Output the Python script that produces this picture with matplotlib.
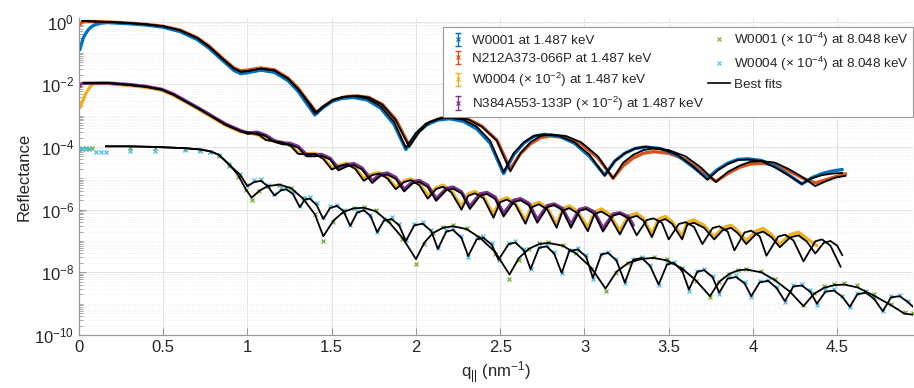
import numpy as np
import matplotlib
matplotlib.use("Agg")
import matplotlib.pyplot as plt
from matplotlib.lines import Line2D
from matplotlib.container import ErrorbarContainer
from matplotlib.collections import LineCollection
from matplotlib.ticker import LogLocator, FixedLocator, FuncFormatter, NullFormatter

plt.rcParams['font.family'] = ['Liberation Sans', 'DejaVu Sans']
plt.rcParams['mathtext.fontset'] = 'custom'
plt.rcParams['mathtext.rm'] = 'Liberation Sans'
plt.rcParams['mathtext.it'] = 'Liberation Sans:italic'
plt.rcParams['mathtext.default'] = 'regular'

# ---- data: q (nm^-1) and log10(reflectance) ----

# fits, 1.487 keV, W0001 and N212A373-066P
fitA_q = [0.02, 0.10, 0.20, 0.30, 0.40, 0.50, 0.60, 0.70, 0.77, 0.85, 0.92, 0.96, 1.00, 1.08, 1.16, 1.24, 1.30, 1.36,
          1.40, 1.44, 1.50, 1.56, 1.63, 1.71, 1.79, 1.87, 1.94, 2.00, 2.06, 2.13, 2.20, 2.28, 2.36, 2.44,
          2.52, 2.58, 2.64, 2.70, 2.76, 2.85, 2.94, 3.03, 3.12, 3.18, 3.24, 3.30, 3.36, 3.45, 3.55, 3.64,
          3.73, 3.79, 3.85, 3.91, 3.97, 4.05, 4.13, 4.21, 4.29, 4.35, 4.41, 4.47, 4.53]
fitA_L = [0.02, 0.00, -0.02, -0.05, -0.09, -0.15, -0.28, -0.52, -0.79, -1.18, -1.50, -1.60, -1.58, -1.50, -1.56, -1.82, -2.15, -2.60,
          -2.93, -2.74, -2.52, -2.41, -2.38, -2.45, -2.70, -3.20, -4.03, -3.55, -3.25, -3.10, -3.07, -3.13, -3.35, -3.80,
          -4.80, -4.20, -3.85, -3.65, -3.60, -3.65, -3.85, -4.25, -4.92, -4.45, -4.20, -4.05, -4.00, -4.05, -4.25, -4.60,
          -5.05, -4.75, -4.55, -4.42, -4.40, -4.45, -4.65, -4.90, -5.18, -5.00, -4.90, -4.85, -4.83]

fitB_q = [0.02, 0.10, 0.20, 0.30, 0.40, 0.50, 0.60, 0.70, 0.77, 0.85, 0.92, 0.96, 1.00, 1.08, 1.16, 1.24, 1.30, 1.36,
          1.41, 1.45, 1.51, 1.58, 1.65, 1.72, 1.80, 1.88, 1.96, 2.02, 2.08, 2.15, 2.23, 2.31, 2.39, 2.48,
          2.56, 2.62, 2.68, 2.74, 2.80, 2.89, 2.98, 3.08, 3.17, 3.23, 3.29, 3.35, 3.41, 3.50, 3.60, 3.69,
          3.78, 3.85, 3.92, 3.98, 4.05, 4.13, 4.21, 4.29, 4.37, 4.43, 4.49, 4.55]
fitB_L = [0.02, 0.00, -0.02, -0.05, -0.09, -0.15, -0.28, -0.52, -0.79, -1.18, -1.50, -1.60, -1.58, -1.50, -1.56, -1.82, -2.15, -2.55,
          -2.92, -2.72, -2.50, -2.40, -2.37, -2.42, -2.65, -3.15, -4.00, -3.50, -3.22, -3.08, -3.05, -3.12, -3.35, -3.80,
          -4.78, -4.20, -3.85, -3.65, -3.60, -3.65, -3.85, -4.30, -5.00, -4.50, -4.25, -4.10, -4.05, -4.10, -4.30, -4.65,
          -5.12, -4.80, -4.60, -4.48, -4.45, -4.50, -4.70, -4.95, -5.25, -5.10, -4.98, -4.92]

# measured, 1.487 keV
w1_q = [0.005, 0.01, 0.025, 0.04, 0.055, 0.075, 0.095, 0.13, 0.17, 0.20, 0.30, 0.40, 0.50, 0.60, 0.70, 0.77, 0.85, 0.92, 0.96,
        1.00, 1.08, 1.16, 1.24, 1.30, 1.36, 1.40, 1.44, 1.50, 1.56, 1.63, 1.71, 1.79, 1.87, 1.94, 2.00, 2.06, 2.13,
        2.20, 2.28, 2.36, 2.44, 2.52, 2.58, 2.64, 2.70, 2.76, 2.85, 2.94, 3.03, 3.12, 3.18, 3.24, 3.30, 3.36, 3.45,
        3.55, 3.64, 3.73, 3.79, 3.85, 3.91, 3.97, 4.05, 4.13, 4.21, 4.29, 4.35, 4.41, 4.47, 4.53]
w1_L = [-0.90, -0.80, -0.52, -0.38, -0.26, -0.16, -0.10, -0.05, -0.03, -0.04, -0.07, -0.11, -0.18, -0.32, -0.57, -0.84, -1.23, -1.56, -1.66,
        -1.63, -1.55, -1.62, -1.88, -2.22, -2.68, -2.98, -2.78, -2.55, -2.45, -2.42, -2.50, -2.76, -3.28, -4.08, -3.60, -3.30, -3.14,
        -3.10, -3.18, -3.42, -3.88, -4.85, -4.25, -3.88, -3.66, -3.60, -3.66, -3.88, -4.30, -4.90, -4.45, -4.20, -4.05, -4.00, -4.05,
        -4.26, -4.62, -5.00, -4.72, -4.52, -4.40, -4.38, -4.43, -4.62, -4.88, -5.18, -4.98, -4.85, -4.77, -4.72]

n212_q = [0.0, 0.01, 0.02, 0.03, 0.10, 0.20, 0.30, 0.40, 0.50, 0.60, 0.70, 0.77, 0.85, 0.92, 0.96, 1.00, 1.08, 1.16, 1.24,
          1.30, 1.36, 1.41, 1.45, 1.51, 1.58, 1.65, 1.72, 1.80, 1.88, 1.96, 2.02, 2.08, 2.15, 2.23, 2.31, 2.39, 2.48,
          2.56, 2.62, 2.68, 2.74, 2.80, 2.89, 2.98, 3.08, 3.17, 3.23, 3.29, 3.35, 3.41, 3.50, 3.60, 3.69, 3.78, 3.85,
          3.92, 3.98, 4.05, 4.13, 4.21, 4.29, 4.37, 4.43, 4.49, 4.55]
n212_L = [-0.12, -0.06, -0.02, 0.00, 0.00, -0.02, -0.05, -0.09, -0.15, -0.27, -0.51, -0.77, -1.16, -1.48, -1.57, -1.55, -1.48, -1.54, -1.80,
          -2.12, -2.55, -2.90, -2.72, -2.50, -2.40, -2.37, -2.42, -2.64, -3.12, -3.95, -3.50, -3.22, -3.08, -3.05, -3.12, -3.33, -3.78,
          -4.70, -4.22, -3.90, -3.70, -3.65, -3.70, -3.90, -4.35, -5.00, -4.60, -4.35, -4.20, -4.15, -4.20, -4.40, -4.75, -5.10, -4.85,
          -4.65, -4.55, -4.52, -4.57, -4.75, -4.98, -5.15, -5.05, -4.95, -4.86]

# fits, 1.487 keV, x 1e-2 samples
fitC_q = [0.03, 0.17, 0.30, 0.40, 0.49, 0.56, 0.63, 0.70, 0.77, 0.87, 0.96,
          1.02, 1.07, 1.11, 1.16, 1.21, 1.26, 1.30, 1.35, 1.40, 1.45, 1.50, 1.55, 1.59, 1.64, 1.69, 1.74, 1.78, 1.83,
          1.88, 1.93, 1.97, 2.02, 2.07, 2.12, 2.16, 2.21, 2.27, 2.31, 2.35, 2.40, 2.46, 2.50, 2.54, 2.59, 2.65, 2.69,
          2.73, 2.78, 2.835, 2.87, 2.91, 2.96, 3.02, 3.06, 3.10, 3.15, 3.21, 3.26, 3.31, 3.35, 3.40, 3.44, 3.48, 3.52,
          3.58, 3.61, 3.65, 3.71, 3.77, 3.82, 3.87, 3.91, 3.96, 4.02, 4.06, 4.11, 4.16, 4.22, 4.27, 4.32, 4.37, 4.42,
          4.46, 4.50, 4.53]
fitC_L = [-1.96, -1.96, -2.02, -2.08, -2.17, -2.33, -2.54, -2.75, -2.97, -3.29, -3.50,
          -3.55, -3.62, -3.78, -3.82, -3.86, -3.98, -4.22, -4.24, -4.22, -4.38, -4.72, -4.60, -4.55, -4.70, -5.08, -4.90, -4.85, -5.00,
          -5.35, -5.12, -5.06, -5.22, -5.65, -5.34, -5.27, -5.45, -6.00, -5.56, -5.48, -5.63, -6.26, -5.76, -5.68, -5.84, -6.45, -5.92,
          -5.83, -6.00, -6.58, -6.04, -5.95, -6.12, -6.69, -6.14, -6.06, -6.22, -6.79, -6.28, -6.20, -6.35, -6.88, -6.38, -6.30, -6.45,
          -6.95, -6.48, -6.42, -6.58, -6.95, -6.66, -6.58, -6.75, -7.10, -6.77, -6.70, -6.88, -7.20, -6.89, -6.82, -7.02, -7.40, -7.06,
          -7.00, -7.15, -7.45]

fitD_q = [0.03, 0.17, 0.30, 0.40, 0.49, 0.56, 0.63, 0.70, 0.77, 0.87, 0.96,
          1.00, 1.06, 1.11, 1.16, 1.21, 1.25, 1.30, 1.35, 1.40, 1.44, 1.49, 1.54, 1.59, 1.63, 1.68, 1.74, 1.79, 1.83,
          1.88, 1.93, 1.98, 2.02, 2.07, 2.12, 2.18, 2.22, 2.27, 2.32, 2.38, 2.42, 2.47, 2.52, 2.58, 2.62, 2.67, 2.72,
          2.78, 2.82, 2.87, 2.92, 2.97, 3.01, 3.06, 3.11, 3.17, 3.21, 3.26, 3.31, 3.37, 3.41, 3.46, 3.50, 3.56, 3.60,
          3.65, 3.70, 3.76, 3.80, 3.85, 3.89, 3.95, 3.99, 4.04, 4.08, 4.15, 4.19, 4.24, 4.30, 4.37, 4.41, 4.46, 4.52]
fitD_L = [-1.96, -1.96, -2.02, -2.08, -2.17, -2.33, -2.54, -2.75, -2.97, -3.29, -3.50,
          -3.58, -3.56, -3.66, -3.84, -3.92, -3.92, -4.02, -4.30, -4.30, -4.28, -4.40, -4.75, -4.62, -4.58, -4.72, -5.15, -4.92, -4.88,
          -5.02, -5.42, -5.16, -5.12, -5.28, -5.72, -5.38, -5.33, -5.48, -5.98, -5.56, -5.50, -5.66, -6.22, -5.76, -5.70, -5.86, -6.42,
          -5.92, -5.86, -6.02, -6.58, -6.04, -5.98, -6.14, -6.70, -6.19, -6.13, -6.28, -6.82, -6.33, -6.28, -6.42, -6.95, -6.46, -6.40,
          -6.55, -7.10, -6.59, -6.53, -6.70, -7.30, -6.73, -6.67, -6.85, -7.47, -6.86, -6.80, -6.98, -7.65, -7.01, -6.95, -7.15, -7.82]

# measured, 1.487 keV, x 1e-2 samples
w4_q = [0.005, 0.025, 0.04, 0.055, 0.07, 0.09, 0.17, 0.30, 0.40, 0.49, 0.56, 0.63, 0.70, 0.77, 0.87, 0.96,
        1.02, 1.07, 1.11, 1.16, 1.21, 1.26, 1.30, 1.35, 1.40, 1.45, 1.50, 1.55, 1.59, 1.64, 1.69, 1.74, 1.78, 1.83,
        1.88, 1.93, 1.97, 2.02, 2.07, 2.12, 2.16, 2.21, 2.27, 2.31, 2.35, 2.40, 2.46, 2.50, 2.54, 2.59, 2.65, 2.69,
        2.73, 2.78, 2.835, 2.87, 2.91, 2.96, 3.02, 3.06, 3.10, 3.15, 3.21, 3.26, 3.31, 3.35, 3.40, 3.44, 3.48, 3.52,
        3.58, 3.61, 3.65, 3.71, 3.77, 3.82, 3.87, 3.91, 3.96, 4.02, 4.06, 4.11, 4.16, 4.22, 4.27, 4.32, 4.38]
w4_L = [-2.75, -2.50, -2.30, -2.17, -2.05, -1.98, -1.98, -2.04, -2.10, -2.19, -2.35, -2.56, -2.77, -2.99, -3.31, -3.52,
        -3.56, -3.63, -3.76, -3.82, -3.85, -3.97, -4.18, -4.22, -4.20, -4.36, -4.66, -4.58, -4.52, -4.67, -5.00, -4.86, -4.82, -4.97,
        -5.28, -5.08, -5.02, -5.18, -5.55, -5.30, -5.22, -5.40, -5.90, -5.50, -5.42, -5.58, -6.15, -5.70, -5.62, -5.80, -6.35, -5.85,
        -5.77, -5.95, -6.48, -5.98, -5.88, -6.06, -6.58, -6.08, -5.98, -6.15, -6.68, -6.20, -6.12, -6.28, -6.78, -6.30, -6.22, -6.38,
        -6.85, -6.40, -6.33, -6.50, -6.88, -6.58, -6.50, -6.68, -7.00, -6.68, -6.60, -6.80, -7.10, -6.80, -6.72, -6.92, -7.15]

n384_q = [0.0, 0.01, 0.02, 0.17, 0.30, 0.40, 0.49, 0.56, 0.63, 0.70, 0.77, 0.87, 0.96,
          1.00, 1.06, 1.11, 1.16, 1.21, 1.25, 1.30, 1.35, 1.40, 1.44, 1.49, 1.54, 1.59, 1.63, 1.68, 1.74, 1.79, 1.83,
          1.88, 1.93, 1.98, 2.02, 2.07, 2.12, 2.18, 2.22, 2.27, 2.32, 2.38, 2.42, 2.47, 2.52, 2.58, 2.62, 2.67, 2.72,
          2.78, 2.82, 2.87, 2.92, 2.97, 3.01, 3.06, 3.11, 3.17, 3.21, 3.26, 3.29]
n384_L = [-2.10, -2.00, -1.97, -1.96, -2.01, -2.07, -2.16, -2.31, -2.52, -2.73, -2.95, -3.27, -3.48,
          -3.55, -3.53, -3.63, -3.80, -3.88, -3.88, -3.98, -4.24, -4.25, -4.24, -4.36, -4.68, -4.57, -4.53, -4.67, -5.08, -4.87, -4.83,
          -4.97, -5.35, -5.11, -5.07, -5.22, -5.65, -5.33, -5.28, -5.43, -5.90, -5.50, -5.45, -5.60, -6.12, -5.70, -5.65, -5.80, -6.32,
          -5.87, -5.82, -5.96, -6.48, -5.99, -5.94, -6.08, -6.60, -6.14, -6.10, -6.22, -6.50]

# fits, 8.048 keV, x 1e-4 samples
fitE_q = [0.16, 0.30, 0.45, 0.63, 0.72, 0.78, 0.83, 0.89, 0.945, 0.99, 1.025, 1.07, 1.12, 1.19, 1.26, 1.33, 1.40,
          1.45, 1.51, 1.57, 1.63, 1.69, 1.76, 1.84, 1.92, 2.00, 2.05, 2.10, 2.16, 2.22, 2.30, 2.38, 2.47,
          2.555, 2.61, 2.67, 2.73, 2.785, 2.87, 2.95, 3.04, 3.125, 3.19, 3.26, 3.34, 3.41, 3.49, 3.58, 3.66,
          3.745, 3.80, 3.86, 3.91, 3.96, 4.05, 4.13, 4.22, 4.30, 4.36, 4.42, 4.48, 4.54, 4.62, 4.72, 4.82, 4.90, 4.95]
fitE_L = [-3.98, -3.98, -4.00, -4.04, -4.08, -4.14, -4.25, -4.55, -4.90, -5.35, -5.62, -5.40, -5.25, -5.20, -5.32, -5.65, -6.15,
          -6.85, -6.35, -6.07, -5.96, -5.94, -6.05, -6.40, -6.90, -7.58, -7.05, -6.75, -6.58, -6.53, -6.62, -6.90, -7.35,
          -8.07, -7.55, -7.25, -7.10, -7.06, -7.15, -7.40, -7.85, -8.52, -7.98, -7.70, -7.57, -7.54, -7.62, -7.88, -8.25,
          -8.76, -8.30, -8.05, -7.94, -7.91, -8.00, -8.25, -8.62, -9.08, -8.70, -8.50, -8.41, -8.39, -8.48, -8.75, -9.05, -9.32, -9.35]

fitF_q = [0.16, 0.30, 0.45, 0.63, 0.72, 0.78, 0.83, 0.89, 0.955,
          1.00, 1.04, 1.08, 1.12, 1.16, 1.20, 1.23, 1.27, 1.31, 1.34, 1.37, 1.41, 1.45, 1.49, 1.53, 1.57, 1.61, 1.65,
          1.69, 1.73, 1.77, 1.81, 1.855, 1.90, 1.94, 1.99, 2.04, 2.09, 2.13, 2.18, 2.22, 2.27, 2.31, 2.36, 2.40, 2.45,
          2.49, 2.55, 2.59, 2.64, 2.68, 2.73, 2.775, 2.82, 2.865, 2.91, 2.96, 3.01, 3.05, 3.10, 3.14, 3.19, 3.24, 3.29,
          3.34, 3.39, 3.44, 3.49, 3.53, 3.58, 3.62, 3.67, 3.71, 3.76, 3.80, 3.85, 3.90, 3.95, 3.99, 4.04, 4.09, 4.14,
          4.19, 4.24, 4.29, 4.34, 4.38, 4.43, 4.48, 4.53, 4.575, 4.62, 4.67, 4.72, 4.77, 4.82, 4.87, 4.92, 4.95]
fitF_L = [-3.98, -3.98, -4.00, -4.04, -4.08, -4.14, -4.25, -4.56, -4.88,
          -5.25, -5.12, -5.08, -5.25, -5.55, -5.38, -5.35, -5.50, -5.92, -5.68, -5.65, -5.85, -6.30, -5.95, -5.88, -6.05, -6.52, -6.10,
          -6.02, -6.20, -6.72, -6.35, -6.30, -6.50, -7.00, -6.50, -6.45, -6.68, -7.25, -6.70, -6.65, -6.90, -7.48, -6.95, -6.90, -7.12,
          -7.60, -7.10, -7.05, -7.30, -7.90, -7.22, -7.17, -7.40, -8.02, -7.32, -7.27, -7.50, -8.18, -7.43, -7.38, -7.62, -8.33, -7.60,
          -7.54, -7.80, -8.39, -7.75, -7.70, -7.95, -8.55, -7.98, -7.93, -8.15, -8.65, -8.20, -8.15, -8.35, -8.76, -8.32, -8.27, -8.50,
          -8.92, -8.45, -8.42, -8.62, -9.00, -8.62, -8.58, -8.78, -9.10, -8.70, -8.65, -8.85, -9.24, -8.80, -8.76, -8.95, -9.10]

# measured, 8.048 keV, x 1e-4 samples
g1_q = [0.0, 0.02, 0.04, 0.06, 0.08, 0.30, 0.45, 0.63, 0.72, 0.78, 0.83, 0.89, 0.945, 0.99, 1.025, 1.07, 1.12, 1.19, 1.26, 1.33, 1.40,
        1.45, 1.51, 1.57, 1.63, 1.69, 1.76, 1.84, 1.92, 2.00, 2.05, 2.10, 2.16, 2.22, 2.30, 2.38, 2.47,
        2.555, 2.61, 2.67, 2.73, 2.785, 2.87, 2.95, 3.04, 3.125, 3.19, 3.26, 3.34, 3.41, 3.49, 3.58, 3.66,
        3.745, 3.80, 3.86, 3.91, 3.96, 4.05, 4.13, 4.22, 4.30, 4.36, 4.42, 4.48, 4.54, 4.62, 4.72, 4.82, 4.90, 4.95]
g1_L = [-4.05, -4.05, -4.03, -4.05, -4.03, -4.02, -4.04, -4.07, -4.10, -4.16, -4.28, -4.60, -4.95, -5.38, -5.70, -5.42, -5.26, -5.20, -5.30, -5.62, -6.15,
        -7.00, -6.40, -6.08, -5.96, -5.92, -6.02, -6.36, -6.95, -7.75, -7.10, -6.76, -6.57, -6.50, -6.58, -6.88, -7.40,
        -8.20, -7.60, -7.25, -7.08, -7.03, -7.12, -7.38, -7.90, -8.60, -8.02, -7.70, -7.55, -7.50, -7.58, -7.85, -8.28,
        -8.80, -8.32, -8.05, -7.92, -7.88, -7.96, -8.22, -8.62, -9.05, -8.65, -8.45, -8.36, -8.33, -8.42, -8.70, -9.00, -9.28, -9.30]

w4x_q = [0.0, 0.02, 0.04, 0.06, 0.10, 0.13, 0.16, 0.30, 0.45, 0.63, 0.72, 0.78, 0.83, 0.89, 0.955,
         1.00, 1.04, 1.08, 1.12, 1.16, 1.20, 1.23, 1.27, 1.31, 1.34, 1.37, 1.41, 1.45, 1.49, 1.53, 1.57, 1.61, 1.65,
         1.69, 1.73, 1.77, 1.81, 1.855, 1.90, 1.94, 1.99, 2.04, 2.09, 2.13, 2.18, 2.22, 2.27, 2.31, 2.36, 2.40, 2.45,
         2.49, 2.55, 2.59, 2.64, 2.68, 2.73, 2.775, 2.82, 2.865, 2.91, 2.96, 3.01, 3.05, 3.10, 3.14, 3.19, 3.24, 3.29,
         3.34, 3.39, 3.44, 3.49, 3.53, 3.58, 3.62, 3.67, 3.71, 3.76, 3.80, 3.85, 3.90, 3.95, 3.99, 4.04, 4.09, 4.14,
         4.19, 4.24, 4.29, 4.34, 4.38, 4.43, 4.48, 4.53, 4.575, 4.62, 4.67, 4.72, 4.77, 4.82, 4.87, 4.92]
w4x_L = [-4.05, -4.03, -4.05, -4.03, -4.15, -4.15, -4.15, -4.13, -4.12, -4.10, -4.12, -4.16, -4.26, -4.55, -4.86,
         -5.20, -5.05, -5.02, -5.20, -5.50, -5.32, -5.30, -5.45, -5.88, -5.64, -5.60, -5.80, -6.25, -5.90, -5.84, -6.00, -6.48, -6.05,
         -5.98, -6.16, -6.70, -6.30, -6.25, -6.45, -6.98, -6.46, -6.40, -6.64, -7.22, -6.66, -6.60, -6.85, -7.50, -6.90, -6.85, -7.08,
         -7.62, -7.06, -7.00, -7.26, -7.90, -7.18, -7.12, -7.36, -8.02, -7.28, -7.22, -7.46, -8.20, -7.40, -7.34, -7.58, -8.35, -7.56,
         -7.50, -7.76, -8.42, -7.70, -7.66, -7.92, -8.60, -7.95, -7.90, -8.12, -8.68, -8.16, -8.10, -8.32, -8.80, -8.28, -8.23, -8.46,
         -8.95, -8.42, -8.38, -8.58, -9.05, -8.58, -8.54, -8.74, -9.12, -8.66, -8.60, -8.82, -9.25, -8.76, -8.72, -8.92]

labels = ['W0001 at 1.487 keV',
          'N212A373-066P at 1.487 keV',
          r'W0004 ($\times$ 10$^{-2}$) at 1.487 keV',
          r'N384A553-133P ($\times$ 10$^{-2}$) at 1.487 keV',
          r'W0001 ($\times$ 10$^{-4}$) at 8.048 keV',
          r'W0004 ($\times$ 10$^{-4}$) at 8.048 keV',
          'Best fits']

c_blue = '#0072BD'
c_orange = '#D95319'
c_yellow = '#EDB120'
c_purple = '#7E2F8E'
c_green = '#77AC30'
c_cyan = '#4DBEEE'


def R(vals):
    return 10.0 ** np.array(vals)


fig = plt.figure(figsize=(9.14, 3.88), dpi=100)
ax = fig.add_axes([79 / 914, 1 - 335 / 388, 834 / 914, 317 / 388])

# measured curves (dense markers look like a band)
ax.plot(n212_q, R(n212_L), color=c_orange, lw=2.4, solid_capstyle='round', zorder=2)
ax.plot(w1_q, R(w1_L), color=c_blue, lw=2.4, solid_capstyle='round', zorder=2)
ax.plot(w4_q, R(w4_L), color=c_yellow, lw=2.4, solid_capstyle='round', zorder=2)
ax.plot(n384_q, R(n384_L), color=c_purple, lw=2.4, solid_capstyle='round', zorder=2)
ax.plot(g1_q, R(g1_L), color=c_green, ls='none', marker='x', ms=3.5, mew=0.9, zorder=2)
ax.plot(w4x_q, R(w4x_L), color=c_cyan, ls='none', marker='x', ms=3.5, mew=0.9, zorder=2)

# best fits
for fq, fl in [(fitA_q, fitA_L), (fitB_q, fitB_L), (fitC_q, fitC_L), (fitD_q, fitD_L),
               (fitE_q, fitE_L), (fitF_q, fitF_L)]:
    ax.plot(fq, R(fl), color='black', lw=1.3, zorder=3)

ax.set_yscale('log')
ax.set_xlim(0, 4.95)
ax.set_ylim(1e-10, 1.3)

ax.xaxis.set_major_locator(FixedLocator([0, 0.5, 1, 1.5, 2, 2.5, 3, 3.5, 4, 4.5]))
ax.xaxis.set_major_formatter(FuncFormatter(lambda v, p: '%g' % v))
ax.yaxis.set_major_locator(FixedLocator([1e-10, 1e-8, 1e-6, 1e-4, 1e-2, 1]))
ax.yaxis.set_major_formatter(FuncFormatter(lambda v, p: r'10$^{%d}$' % round(np.log10(v))))
ax.yaxis.set_minor_locator(LogLocator(base=10, subs=np.arange(1, 10), numticks=30))
ax.yaxis.set_minor_formatter(NullFormatter())

for s in ['top', 'right']:
    ax.spines[s].set_visible(False)
for s in ['left', 'bottom']:
    ax.spines[s].set_color('#9a9a9a')
    ax.spines[s].set_linewidth(0.9)
ax.tick_params(which='both', direction='in', colors='#9a9a9a', labelcolor='#262626', labelsize=12)
ax.tick_params(which='major', length=5)
ax.tick_params(which='minor', length=3)

ax.grid(True, which='major', color='#e4e4e4', lw=0.7)
ax.grid(True, which='minor', axis='y', color='#ececec', lw=0.6, ls=':')
ax.set_axisbelow(True)

ax.set_ylabel('Reflectance', fontsize=12, color='#262626', labelpad=2)
ax.set_xlabel(r'q$_{||}$ (nm$^{-1}$)', fontsize=12, color='#262626', labelpad=3)


def eb_handle(color):
    ln = Line2D([], [], color=color, marker='x', ms=2.5, mew=0.8, ls='none')
    cap = Line2D([], [], color=color, marker='_', ms=4, ls='none')
    bar = LineCollection([], colors=color, linewidths=1.0)
    return ErrorbarContainer((ln, [cap, cap], [bar]), has_xerr=False, has_yerr=True)


handles = [eb_handle(c_blue), eb_handle(c_orange), eb_handle(c_yellow), eb_handle(c_purple),
           Line2D([], [], color=c_green, marker='x', ms=3, mew=0.8, ls='none'),
           Line2D([], [], color=c_cyan, marker='x', ms=3, mew=0.8, ls='none'),
           Line2D([], [], color='black', lw=1.2)]
leg = ax.legend(handles, labels, ncol=2, loc='upper right', bbox_to_anchor=(1.0, 0.972),
                borderaxespad=0, fontsize=9.7, numpoints=1, handlelength=1.6, handletextpad=0.3,
                columnspacing=0.3, labelspacing=0.42, borderpad=0.3, fancybox=False,
                framealpha=1, edgecolor='#9a9a9a')
leg.get_frame().set_linewidth(0.8)
for t in leg.get_texts():
    t.set_color('#262626')

fig.savefig('out.png', dpi=100)
